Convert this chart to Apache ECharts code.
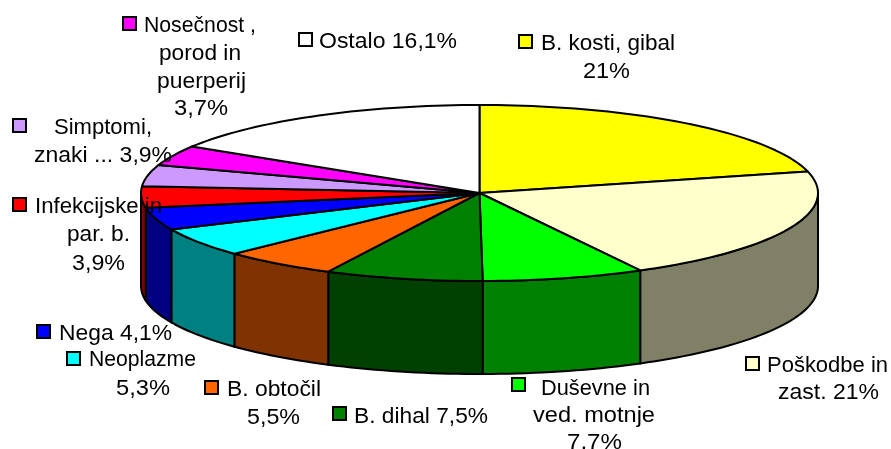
<!DOCTYPE html>
<html><head><meta charset="utf-8">
<style>html,body{margin:0;padding:0;background:#fff}#c{width:891px;height:449px}</style>
<script src="https://cdn.jsdelivr.net/npm/echarts@6/dist/echarts.min.js"></script>
</head><body><div id="c"></div>
<script>
const categories = ['B. kosti, gibal','Poškodbe in zast.','Duševne in ved. motnje','B. dihal','B. obtočil','Neoplazme','Nega','Infekcijske in par. b.','Simptomi, znaki ...','Nosečnost, porod in puerperij','Ostalo'];
const values = [21, 21, 7.7, 7.5, 5.5, 5.3, 4.1, 3.9, 3.9, 3.7, 16.1];
const topColors = ['#FFFF00','#FFFFCC','#00FF00','#008000','#FF6600','#00FFFF','#0000FF','#FF0000','#CC99FF','#FF00FF','#FFFFFF'];
const sideColors = ['#808000','#808066','#008000','#004000','#803300','#008080','#000080','#800000','#664D80','#800080','#808080'];
// label text lines; {v} = the value
const labelLines = [
  ['B. kosti, gibal','{v}'],['Poškodbe in','zast. {v}'],['Duševne in','ved. motnje','{v}'],['B. dihal {v}'],['B. obtočil','{v}'],
  ['Neoplazme','{v}'],['Nega {v}'],['Infekcijske in','par. b.','{v}'],['Simptomi,','znaki ... {v}'],['Nosečnost ,','porod in','puerperij','{v}'],['Ostalo {v}']
];
// layout: swatch [x,y], then per-line [left,right,baseline]
const labelLayout = [
  {s:[519,35],l:[[541,675,50],[583,630,78]]},
  {s:[746,357],l:[[767,888,372],[778,879,399]]},
  {s:[512,378],l:[[541,650,395],[533,655,422],[567,622,449]]},
  {s:[333,407],l:[[354,488,423]]},
  {s:[205,381],l:[[227,321,396],[247,300,424]]},
  {s:[67,352],l:[[89,196,366],[116,170,395]]},
  {s:[37,325],l:[[59,172,340]]},
  {s:[13,198],l:[[35,162,213],[67,130,241],[72,125,270]]},
  {s:[13,119],l:[[54,152,134],[34,172,162]]},
  {s:[123,17],l:[[144,256,32],[159,241,60],[157,246,88],[174,228,115]]},
  {s:[299,33],l:[[319,457,48]]}
];
const CX=479.5, CY=193, RX=338.5, RY=88, DEPTH=93;
const FONT_SIZE=22, FONT_FAMILY='"Liberation Sans", Arial, sans-serif';
const total = values.reduce((a,b)=>a+b,0);
let acc=0;
const slices = values.map((v,i)=>{const a=acc/total*360; acc+=v; return [a,acc/total*360,i];});
const pt=(deg,dy)=>{const r=deg*Math.PI/180;return [CX+RX*Math.sin(r),CY-RY*Math.cos(r)+(dy||0)];};
const arc=(a,b,dy)=>{const n=Math.max(2,Math.ceil((b-a)/1.5));const o=[];for(let k=0;k<=n;k++)o.push(pt(a+(b-a)*k/n,dy));return o;};
function renderSide(p,api){
  const a=Math.max(api.value(0),90),b=Math.min(api.value(1),270),i=api.value(2);
  if(b<=a) return {type:'group',children:[]};
  const pts=arc(a,b,0).concat(arc(a,b,DEPTH).reverse());
  return {type:'polygon',shape:{points:pts},style:{fill:sideColors[i],stroke:'#000',lineWidth:2,lineJoin:'round'},silent:true};
}
function renderTop(p,api){
  const a=api.value(0),b=api.value(1),i=api.value(2);
  const pts=[[CX,CY]].concat(arc(a,b,0));
  return {type:'polygon',shape:{points:pts},style:{fill:topColors[i],stroke:'#000',lineWidth:2,lineJoin:'round'},silent:true};
}
const fmt=v=>String(v).replace('.',',')+'%';
const mctx=document.createElement('canvas').getContext('2d'); mctx.font=FONT_SIZE+'px '+FONT_FAMILY;
const graphics=[];
labelLayout.forEach((L,i)=>{
  graphics.push({type:'rect',shape:{x:L.s[0],y:L.s[1],width:13,height:13},style:{fill:topColors[i],stroke:'#000',lineWidth:2},z:20,silent:true});
  labelLines[i].forEach((t,k)=>{
    const txt=t.replace('{v}',fmt(values[i]));const [x0,x1,base]=L.l[k];
    const sx=(x1-x0)/mctx.measureText(txt).width;
    graphics.push({type:'text',x:x0,y:base-17,scaleX:sx,z:21,silent:true,
      style:{text:txt,fontSize:FONT_SIZE,fontFamily:FONT_FAMILY,fill:'#000',textAlign:'left'}});
  });
});
const chart=echarts.init(document.getElementById('c'),null,{renderer:'canvas'});
chart.setOption({
  animation:false,
  backgroundColor:'#fff',
  graphic:graphics,
  series:[
    {type:'custom',coordinateSystem:'none',clip:false,z:2,renderItem:renderSide,data:slices,name:'side',silent:true},
    {type:'custom',coordinateSystem:'none',clip:false,z:3,renderItem:renderTop,data:slices,name:'top',silent:true}
  ]
});
</script></body></html>
